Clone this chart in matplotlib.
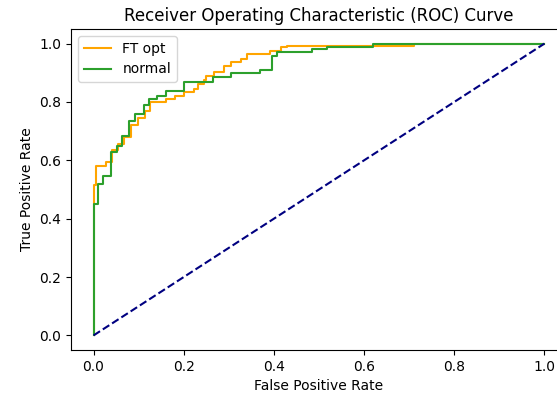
import matplotlib
matplotlib.use("Agg")
import matplotlib.pyplot as plt

ft_fpr = [0, 0, 0.006, 0.006, 0.028, 0.028, 0.04, 0.04, 0.055, 0.055, 0.068, 0.068,
          0.083, 0.083, 0.098, 0.098, 0.115, 0.115, 0.125, 0.125, 0.16, 0.16, 0.18, 0.18,
          0.20, 0.20, 0.222, 0.222, 0.232, 0.232, 0.245, 0.245, 0.25, 0.25, 0.267, 0.267,
          0.289, 0.289, 0.304, 0.304, 0.326, 0.326, 0.341, 0.341, 0.392, 0.392, 0.415,
          0.415, 0.429, 0.429, 0.71, 0.71, 1.0]
ft_tpr = [0, 0.514, 0.514, 0.582, 0.582, 0.594, 0.594, 0.634, 0.634, 0.655, 0.655, 0.68,
          0.68, 0.72, 0.72, 0.745, 0.745, 0.77, 0.77, 0.80, 0.80, 0.81, 0.81, 0.82,
          0.82, 0.833, 0.833, 0.845, 0.845, 0.862, 0.862, 0.875, 0.875, 0.89, 0.89, 0.901,
          0.901, 0.924, 0.924, 0.936, 0.936, 0.947, 0.947, 0.964, 0.964, 0.976, 0.976,
          0.987, 0.987, 0.993, 0.993, 1.0, 1.0]

nm_fpr = [0, 0, 0.01, 0.01, 0.021, 0.021, 0.038, 0.038, 0.051, 0.051, 0.064, 0.064,
          0.078, 0.078, 0.093, 0.093, 0.111, 0.111, 0.123, 0.123, 0.141, 0.141, 0.16, 0.16,
          0.2, 0.2, 0.266, 0.266, 0.304, 0.304, 0.37, 0.37, 0.396, 0.396, 0.407, 0.407,
          0.485, 0.485, 0.518, 0.518, 0.62, 0.62, 1.0]
nm_tpr = [0, 0.451, 0.451, 0.519, 0.519, 0.545, 0.545, 0.628, 0.628, 0.65, 0.65, 0.685,
          0.685, 0.736, 0.736, 0.759, 0.759, 0.788, 0.788, 0.81, 0.81, 0.822, 0.822, 0.839,
          0.839, 0.869, 0.869, 0.885, 0.885, 0.898, 0.898, 0.91, 0.91, 0.959, 0.959, 0.97,
          0.97, 0.982, 0.982, 0.99, 0.99, 1.0, 1.0]

diag = [0, 1]

fig = plt.figure(figsize=(5.57, 4.0), dpi=100)
ax = fig.add_axes([71 / 557, 50 / 400, 496 / 557, 321 / 400])
ax.plot(ft_fpr, ft_tpr, color='orange', lw=1.5, label='FT opt')
ax.plot(nm_fpr, nm_tpr, color='tab:green', lw=1.5, label='normal')
ax.plot(diag, diag, color='navy', lw=1.5, linestyle='--')
ax.set_xlabel('False Positive Rate')
ax.set_ylabel('True Positive Rate')
ax.set_title('Receiver Operating Characteristic (ROC) Curve')
ax.legend(loc='upper left')
fig.savefig('out.png', dpi=100)
